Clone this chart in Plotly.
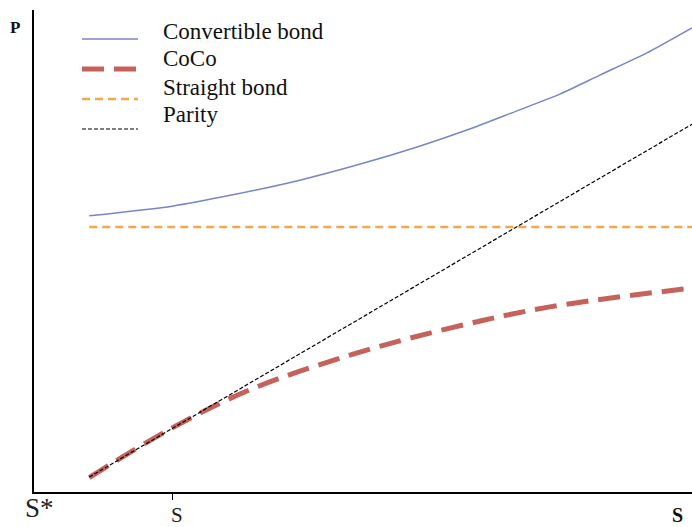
import plotly.graph_objects as go

# Data (abstract units: x in [0,100], y in [0,100])
x_conv = [8.4, 21.0, 30.0, 40.4, 50.0, 58.7, 66.0, 72.3, 80.0, 86.0, 93.0, 100.0]
y_conv = [57.3, 59.3, 61.6, 64.7, 68.2, 71.8, 75.2, 78.5, 82.6, 86.5, 91.0, 96.3]

x_coco = [8.4, 21.0, 32.8, 48.0, 63.2, 78.4, 100.0]
y_coco = [3.0, 13.3, 21.2, 28.4, 34.0, 38.4, 42.3]

x_straight = [8.4, 100.0]
y_straight = [55.0, 55.0]

x_parity = [8.4, 100.0]
y_parity = [3.1, 76.3]

tick_vals = [21.0]
legend_names = ["Convertible bond", "CoCo", "Straight bond", "Parity"]

W, H = 692, 527
L, R, T, B = 34, 0, 10, 35
PW, PH = W - L - R, H - T - B

def px(xp):
    return (xp - L) / PW

def py(yp):
    return (H - B - yp) / PH

styles = [
    dict(color="#7785c9", width=1.5, dash="solid"),
    dict(color="#c4625b", width=5, dash="22px,10px"),
    dict(color="#f2a94e", width=2.5, dash="8px,5px"),
    dict(color="#000000", width=1.2, dash="4px,2px"),
]

fig = go.Figure()
fig.add_trace(go.Scatter(x=x_straight, y=y_straight, mode="lines", line=styles[2], name=legend_names[2], showlegend=False))
fig.add_trace(go.Scatter(x=x_coco, y=y_coco, mode="lines", line=dict(**styles[1], shape="spline"), name=legend_names[1], showlegend=False))
fig.add_trace(go.Scatter(x=x_parity, y=y_parity, mode="lines", line=styles[3], name=legend_names[3], showlegend=False))
fig.add_trace(go.Scatter(x=x_conv, y=y_conv, mode="lines", line=dict(**styles[0], shape="spline", smoothing=0.6), name=legend_names[0], showlegend=False))

font_serif = "Liberation Serif, Times New Roman, serif"

# manual legend
sym_y = [39, 69, 99, 129]
txt_y = [32, 59, 87, 114]
for name, st, sy, ty in zip(legend_names, styles, sym_y, txt_y):
    fig.add_shape(type="line", xref="paper", yref="paper",
                  x0=px(82), x1=px(138), y0=py(sy), y1=py(sy),
                  line=dict(color=st["color"], width=st["width"], dash=st["dash"]))
    fig.add_annotation(xref="paper", yref="paper", x=px(161), y=py(ty), text=name,
                       showarrow=False, xanchor="left", yanchor="middle",
                       font=dict(family=font_serif, size=23, color="#111111"))

# axis labels
fig.add_annotation(xref="paper", yref="paper", x=px(15), y=py(28), text="<b>P</b>",
                   showarrow=False, xanchor="center", yanchor="middle",
                   font=dict(family=font_serif, size=17, color="#111111"))
fig.add_annotation(xref="paper", yref="paper", x=px(39), y=py(508), text="S*",
                   showarrow=False, xanchor="center", yanchor="middle",
                   font=dict(family=font_serif, size=27, color="#222222"))
fig.add_annotation(xref="paper", yref="paper", x=px(177), y=py(515), text="S",
                   showarrow=False, xanchor="center", yanchor="middle",
                   font=dict(family=font_serif, size=21, color="#222222"))
fig.add_annotation(xref="paper", yref="paper", x=px(677), y=py(515), text="<b>S</b>",
                   showarrow=False, xanchor="center", yanchor="middle",
                   font=dict(family=font_serif, size=20, color="#111111"))

fig.update_layout(
    width=W, height=H,
    margin=dict(l=L, r=R, t=T, b=B),
    paper_bgcolor="white", plot_bgcolor="white",
    showlegend=False,
)
fig.update_xaxes(range=[0, 100], showgrid=False, zeroline=False, showline=True,
                 linecolor="black", linewidth=2, tickvals=tick_vals, ticks="outside",
                 ticklen=6, tickwidth=1, tickcolor="black", showticklabels=False)
fig.update_yaxes(range=[0, 100], showgrid=False, zeroline=False, showline=True,
                 linecolor="black", linewidth=2, showticklabels=False, ticks="")

fig.write_html("out.html", config={"displayModeBar": False},
               post_script="document.body.style.margin='0';document.body.style.overflow='hidden';")
